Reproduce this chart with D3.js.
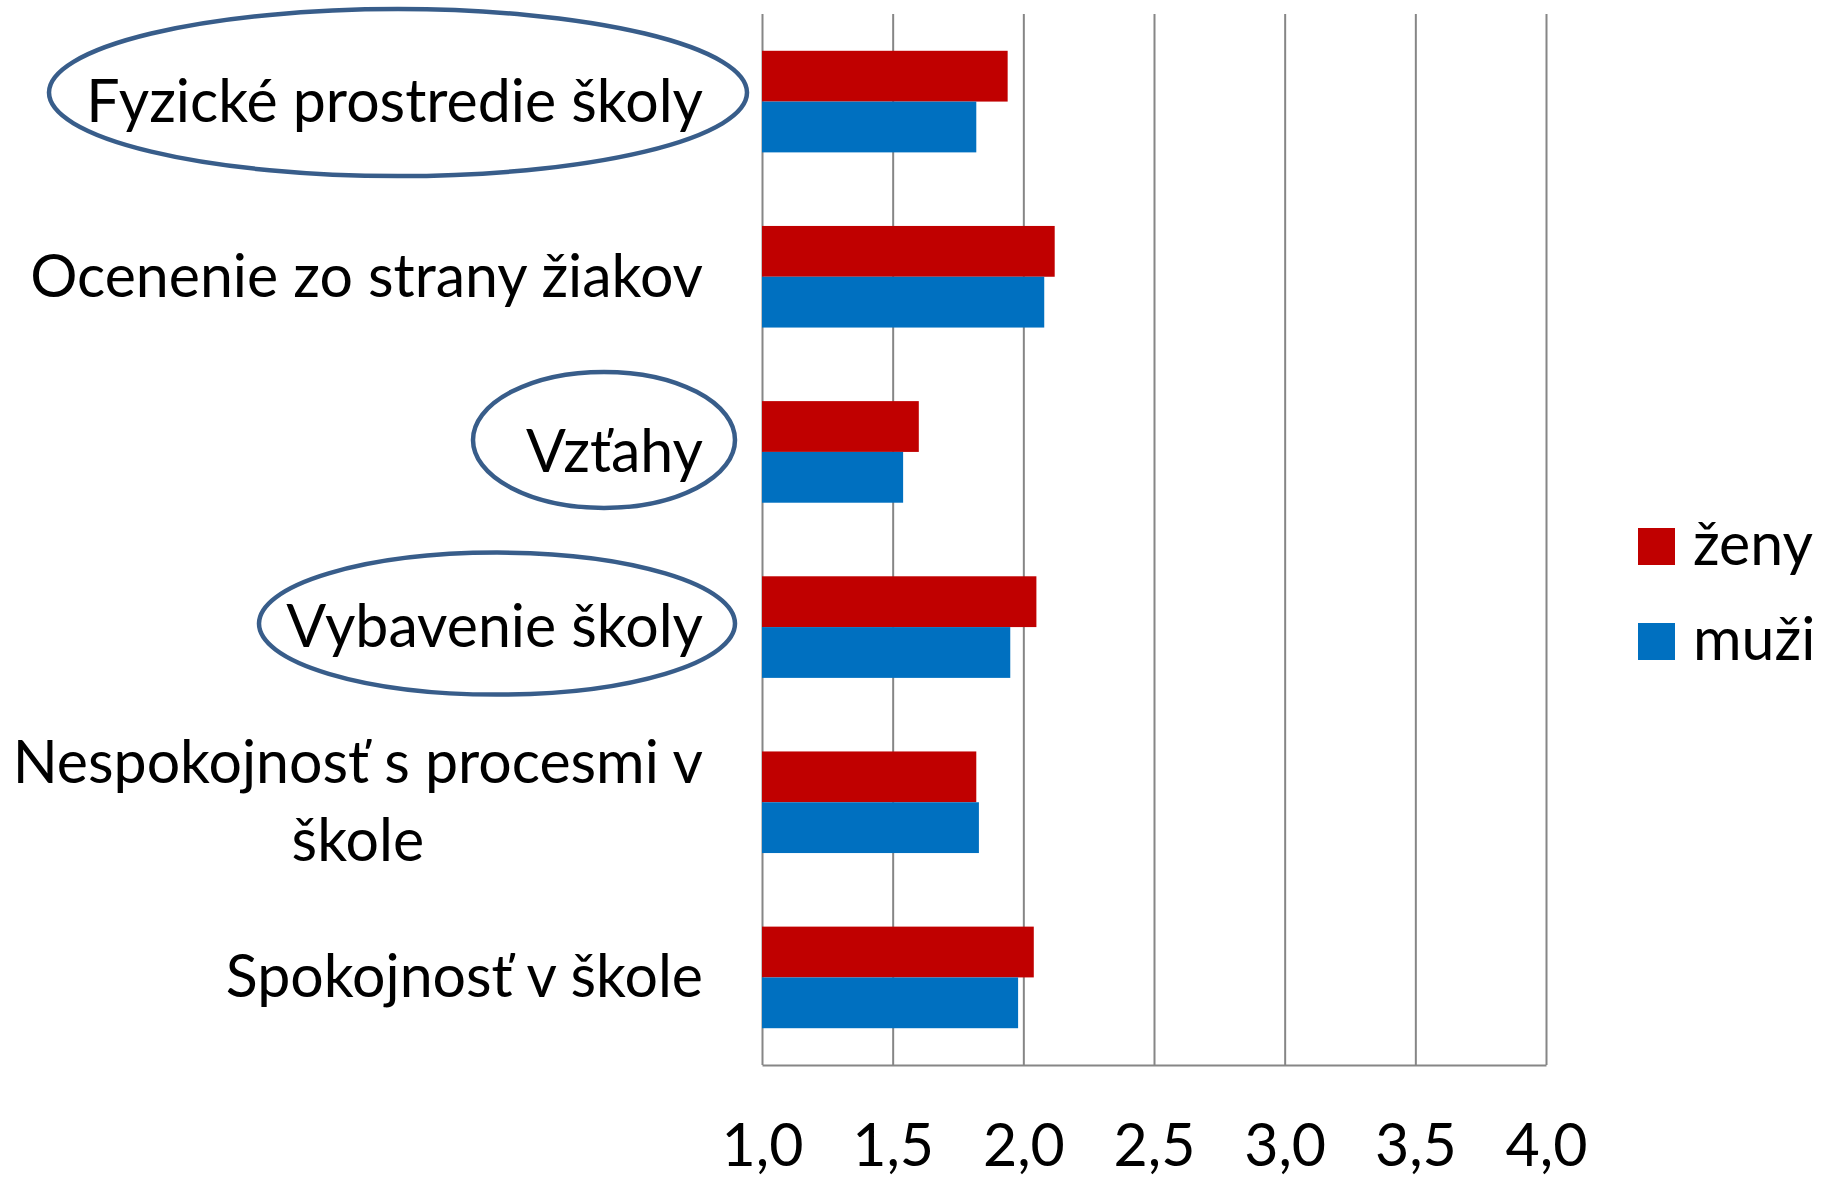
<!DOCTYPE html>
<html><head><meta charset="utf-8">
<script src="https://cdn.jsdelivr.net/npm/d3@7"></script>
<style>body{margin:0;background:#fff}</style>
</head><body>
<svg id="chart" width="1829" height="1178"></svg>
<script>
// ---- data ----
const categories = ["Fyzické prostredie školy","Ocenenie zo strany žiakov","Vzťahy","Vybavenie školy","Nespokojnosť s procesmi v škole","Spokojnosť v škole"];
const categoryLines = [["Fyzické prostredie školy"],["Ocenenie zo strany žiakov"],["Vzťahy"],["Vybavenie školy"],["Nespokojnosť s procesmi v","škole"],["Spokojnosť v škole"]];
const zeny = [1.94, 2.12, 1.60, 2.05, 1.82, 2.04];
const muzi = [1.82, 2.08, 1.54, 1.95, 1.83, 1.98];
const seriesNames = ["ženy","muži"];
const seriesColors = ["#C00000","#0070C0"];
const tickValues = [1.0, 1.5, 2.0, 2.5, 3.0, 3.5, 4.0];
const tickLabels = ["1,0","1,5","2,0","2,5","3,0","3,5","4,0"];
const highlighted = ["Fyzické prostredie školy","Vzťahy","Vybavenie školy"];

// ---- layout ----
const svg = d3.select("#chart");
const FONT = "Lato, 'Open Sans', sans-serif";
const plot = {left: 762, right: 1546, top: 14, bottom: 1065};
const labelRight = 703;

// fit font size to the reference width of a label
const probe = svg.append("text").attr("font-family", FONT).attr("font-size", 100).text(categories[1]);
const pw = probe.node().getComputedTextLength();
probe.remove();
const FS = 100 * 673 / pw;

const x = d3.scaleLinear().domain([1, 4]).range([plot.left, plot.right]);
const y = d3.scaleBand().domain(categories).range([plot.top, plot.bottom]).paddingInner(0.42).paddingOuter(0.21);
const ys = d3.scaleBand().domain(seriesNames).range([0, y.bandwidth()]);
const color = d3.scaleOrdinal().domain(seriesNames).range(seriesColors);

// axis + gridlines
const ax = svg.append("g").attr("transform", `translate(0,${plot.bottom})`)
  .call(d3.axisBottom(x).tickValues(tickValues)
    .tickFormat((d, i) => tickLabels[i])
    .tickSizeInner(-(plot.bottom - plot.top)).tickSizeOuter(0));
ax.selectAll("path.domain").attr("stroke", "#868686").attr("stroke-width", 2);
ax.selectAll(".tick line").attr("stroke", "#868686").attr("stroke-width", 2);
ax.selectAll(".tick text").attr("y", 101).attr("dy", null)
  .attr("font-family", FONT).attr("font-size", FS).attr("fill", "#000");

// bars
const rows = categories.map((c, i) => ({cat: c, values: [
  {s: seriesNames[0], v: zeny[i]}, {s: seriesNames[1], v: muzi[i]}]}));
const g = svg.append("g");
g.selectAll("g.row").data(rows).join("g").attr("class", "row")
  .attr("transform", d => `translate(0,${y(d.cat)})`)
  .selectAll("rect").data(d => d.values).join("rect")
  .attr("x", x(1)).attr("y", d => ys(d.s))
  .attr("width", d => x(d.v) - x(1)).attr("height", ys.bandwidth())
  .attr("fill", d => color(d.s));

// category labels
const lineH = 78;
categories.forEach((c, i) => {
  const lines = categoryLines[i];
  const t = svg.append("text").attr("font-family", FONT).attr("font-size", FS).attr("fill", "#000").attr("text-anchor", "middle");
  const cy = y(c) + y.bandwidth() / 2;
  const spans = lines.map((ln, j) => t.append("tspan").text(ln)
      .attr("y", cy + 20 + (j - (lines.length - 1) / 2) * lineH));
  const maxW = d3.max(spans, s => s.node().getComputedTextLength());
  spans.forEach(s => s.attr("x", labelRight - maxW / 2));
});

// highlight ellipses (annotations)
const ellipses = [
  {cat: "Fyzické prostredie školy", cx: 398, rx: 349, ry: 83.5, dy: -9},
  {cat: "Vzťahy", cx: 604, rx: 131, ry: 68, dy: -12},
  {cat: "Vybavenie školy", cx: 497, rx: 238, ry: 71, dy: -3.5}
].filter(e => highlighted.includes(e.cat));
svg.append("g").selectAll("ellipse").data(ellipses).join("ellipse")
  .attr("cx", d => d.cx).attr("cy", d => y(d.cat) + y.bandwidth() / 2 + d.dy)
  .attr("rx", d => d.rx).attr("ry", d => d.ry)
  .attr("fill", "none").attr("stroke", "#385D8A").attr("stroke-width", 4.5);

// legend
const lg = svg.append("g").attr("transform", "translate(1638,528)");
const li = lg.selectAll("g").data(seriesNames).join("g").attr("transform", (d, i) => `translate(0,${i * 95})`);
li.append("rect").attr("width", 37).attr("height", 37).attr("fill", d => color(d));
li.append("text").attr("x", 55).attr("y", 37).attr("font-family", FONT).attr("font-size", FS).attr("fill", "#000").text(d => d);
</script>
</body></html>
